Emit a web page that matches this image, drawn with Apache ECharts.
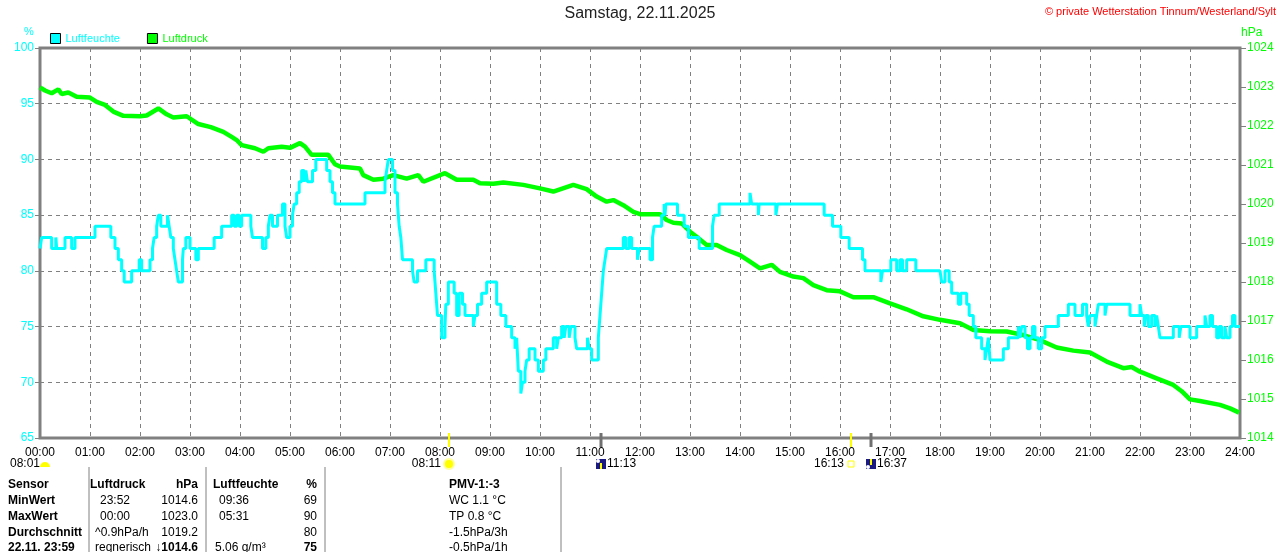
<!DOCTYPE html>
<html>
<head>
<meta charset="utf-8">
<title>Samstag, 22.11.2025</title>
<script src="https://cdn.jsdelivr.net/npm/echarts/dist/echarts.min.js"></script>
<style>
html, body { margin: 0; padding: 0; background: #fff; }
#chart { width: 1280px; height: 552px; }
</style>
</head>
<body>
<div id="chart"></div>
<script>
// Zeit in Minuten seit 00:00
var humTimes = [0, 2, 14, 19, 20, 30, 38, 42, 66, 85, 90, 94, 98, 101, 110, 119, 122, 132, 135, 137, 140, 142, 145, 153, 155, 157, 160, 162, 164, 166, 171, 172, 175, 180, 187, 190, 209, 218, 230, 233, 236, 239, 242, 253, 255, 267, 271, 274, 276, 279, 285, 291, 294, 296, 300, 303, 305, 308, 311, 314, 317, 319, 321, 327, 331, 344, 348, 351, 354,
  390, 414, 416, 418, 423, 426, 429, 431, 433, 435, 447, 449, 453, 463, 473, 475, 477, 482, 486, 487, 490, 497, 500, 503, 507, 510, 520, 522, 525, 530, 536, 548, 553, 559, 566, 570, 572, 574, 577, 579, 582, 584, 587, 594, 598, 604, 607, 616, 620, 622, 626, 629, 631, 635, 637, 642, 644, 657, 659, 662, 670, 672, 674, 676, 678, 680, 700, 703, 707, 710, 717, 719, 732, 735, 737, 746, 749, 750, 751, 765, 773, 778, 791, 807, 809, 815, 852, 854, 862, 863, 883, 885, 941, 951, 961, 971, 987, 990, 1009, 1011, 1021, 1028, 1032, 1035, 1040, 1051, 1080, 1082, 1086, 1091, 1094, 1102, 1105, 1112, 1115, 1120, 1123, 1130, 1134, 1136, 1138, 1140, 1156, 1162, 1174, 1176, 1178, 1182, 1185, 1188, 1191, 1194, 1198, 1202, 1206, 1222, 1234, 1242, 1251, 1256, 1258, 1260, 1266, 1268, 1270, 1278, 1280, 1308, 1320, 1322, 1325, 1327, 1330, 1334, 1338, 1340, 1342, 1344, 1360, 1367, 1369, 1380, 1388, 1398, 1400, 1404, 1407, 1412, 1415, 1418, 1422, 1424, 1428, 1431, 1434, 1440];
var humValues = [82, 83, 82, 83, 82, 83, 82, 83, 84, 83, 82, 81, 80, 79, 80, 81, 80, 81, 82, 83, 84, 85, 84, 85, 84, 83, 82, 81, 80, 79, 81, 82, 83, 82, 81, 82, 83, 84, 85, 84, 85, 84, 85, 84, 83, 82, 83, 84, 85, 84, 85, 86, 84, 83, 84, 85, 86, 87, 88, 89, 88, 89, 88, 89, 90, 89, 88, 87, 86,
  87, 88, 89, 90, 89, 87, 86, 84, 83, 81, 80, 79, 80, 81, 80, 78, 76, 74, 75, 77, 79, 78, 76, 78, 77, 76, 75, 76, 77, 78, 79, 77, 76, 75, 74, 73, 74, 71, 69, 70, 71, 72, 73, 72, 71, 72, 73, 74, 73, 74, 75, 74, 75, 74, 75, 74, 73, 74, 73, 72, 74, 76, 78, 80, 81, 82, 83, 82, 83, 82, 81, 82, 81, 83, 84, 85, 86, 85, 86, 85, 84, 83, 82, 84, 85, 86, 87, 86, 85, 86, 85, 86, 85, 84, 83, 82, 81, 80, 79, 80, 81, 80, 81, 80, 81, 80, 80, 79, 80, 79, 78, 77, 78, 77, 76, 75, 74, 73, 72, 73, 74, 72, 73, 74, 75, 74, 75, 74, 73, 74, 75, 74, 73, 74, 75, 76, 77, 76, 77, 76, 75, 76, 75, 76, 77, 76, 77, 76, 77, 76, 75, 76, 75, 76, 75, 76, 75, 74, 75, 74, 75, 74, 75, 76, 75, 76, 75, 74, 75, 74, 75, 74, 75, 76, 75, 75];

var pressTimes = [0, 6, 14, 22, 26, 34, 44, 60, 68, 78, 88, 100, 120, 128, 142, 152, 160, 176, 190, 205, 220, 230, 236, 242, 258, 268, 274, 290, 300, 312, 318, 326, 346, 354, 360, 384, 388, 400, 412, 424, 440, 454, 460, 486, 500, 520, 528, 544, 556, 580, 600, 616, 640, 656, 668, 680, 688, 700, 712, 720, 744, 752, 760, 770, 780, 788, 800, 812, 824, 840, 852, 864, 878, 888, 904, 916, 928, 944, 960, 976, 1000, 1020, 1040, 1060, 1080, 1104, 1120, 1140, 1160, 1180, 1200, 1220, 1240, 1260, 1280, 1300, 1310, 1320, 1340, 1360, 1370, 1380, 1392, 1416, 1428, 1439];
var pressValues = [1022.99, 1022.91, 1022.84, 1022.94, 1022.82, 1022.86, 1022.75, 1022.73, 1022.62, 1022.54, 1022.37, 1022.26, 1022.25, 1022.27, 1022.45, 1022.30, 1022.22, 1022.25, 1022.05, 1021.97, 1021.85, 1021.72, 1021.64, 1021.51, 1021.43, 1021.34, 1021.43, 1021.47, 1021.44, 1021.56, 1021.47, 1021.26, 1021.26, 1021.02, 1020.96, 1020.91, 1020.74, 1020.62, 1020.65, 1020.74, 1020.65, 1020.74, 1020.57, 1020.79, 1020.62, 1020.62, 1020.53, 1020.52, 1020.55, 1020.49, 1020.40, 1020.32, 1020.49, 1020.38, 1020.19, 1020.06, 1020.10, 1019.97, 1019.80, 1019.74, 1019.74, 1019.59, 1019.52, 1019.50, 1019.29, 1019.16, 1018.95, 1018.95, 1018.82, 1018.69, 1018.52, 1018.35, 1018.44, 1018.26, 1018.14, 1018.10, 1017.92, 1017.79, 1017.76, 1017.61, 1017.61, 1017.45, 1017.30, 1017.12, 1017.03, 1016.94, 1016.77, 1016.74, 1016.73, 1016.64, 1016.51, 1016.32, 1016.24, 1016.19, 1015.96, 1015.79, 1015.82, 1015.70, 1015.53, 1015.36, 1015.20, 1014.99, 1014.95, 1014.85, 1014.76, 1014.65];

// Sonnen- / Mondereignisse (Minuten, Beschriftung)
var eventTimes = [491, 673, 973, 997];
var eventLabels = ['08:11', '11:13', '16:13', '16:37'];

// Tabelle unter dem Diagramm
var tableRows = [
  ['Sensor', 'Luftdruck', 'hPa', 'Luftfeuchte', '%', 'PMV-1:-3'],
  ['MinWert', '23:52', '1014.6', '09:36', '69', 'WC 1.1 °C'],
  ['MaxWert', '00:00', '1023.0', '05:31', '90', 'TP 0.8 °C'],
  ['Durchschnitt', '^0.9hPa/h', '1019.2', '', '80', '-1.5hPa/3h'],
  ['22.11. 23:59', 'regnerisch', '↓1014.6', '5.06 g/m³', '75', '-0.5hPa/1h']
];

var FONT = '"Liberation Sans", Arial, sans-serif';
var cyan = '#00ffff';
var green = '#00ff00';
var gray = '#808080';

function pad(n) { return (n < 10 ? '0' : '') + n; }

var humData = humTimes.map(function (t, i) { return [t, humValues[i]]; });
var pressData = pressTimes.map(function (t, i) { return [t, pressValues[i]]; });

var myChart = echarts.init(document.getElementById('chart'));

var option = {
  animation: false,
  backgroundColor: '#fff',
  textStyle: { fontFamily: FONT },
  grid: {
    left: 40, right: 40, top: 48, bottom: 114,
    show: true, borderColor: gray, borderWidth: 3
  },
  legend: {
    left: 50, top: 33, padding: 0,
    icon: 'rect', itemWidth: 10, itemHeight: 10, itemGap: 27,
    itemStyle: { borderColor: '#000', borderWidth: 1 },
    textStyle: { fontFamily: FONT, fontSize: 11 },
    data: [
      { name: 'Luftfeuchte', textStyle: { color: cyan } },
      { name: 'Luftdruck', textStyle: { color: green } }
    ]
  },
  xAxis: {
    type: 'value', min: 0, max: 1440, interval: 60,
    axisLine: { show: false },
    axisTick: { show: false },
    axisLabel: {
      color: '#000', fontSize: 12, fontFamily: FONT, margin: 9,
      formatter: function (v) { return pad(v / 60) + ':00'; }
    },
    splitLine: { show: true, lineStyle: { color: gray, type: [4, 4], width: 1 } }
  },
  yAxis: [
    {
      type: 'value', min: 65, max: 100, interval: 5,
      axisLine: { show: false },
      axisTick: { show: true, length: 5, lineStyle: { color: gray } },
      axisLabel: { color: cyan, fontSize: 12, fontFamily: FONT, margin: 6 },
      splitLine: { show: true, lineStyle: { color: gray, type: [4, 4], width: 1 } }
    },
    {
      type: 'value', min: 1014, max: 1024, interval: 1,
      axisLine: { show: false },
      axisTick: { show: true, length: 6, lineStyle: { color: gray } },
      axisLabel: {
        color: green, fontSize: 12, fontFamily: FONT, margin: 7,
        formatter: function (v) { return String(v); }
      },
      splitLine: { show: false }
    }
  ],
  series: [
    {
      name: 'Luftdruck', type: 'line', yAxisIndex: 1,
      data: pressData, showSymbol: false,
      itemStyle: { color: green },
      lineStyle: { color: green, width: 4.5 },
      z: 2
    },
    {
      name: 'Luftfeuchte', type: 'line', yAxisIndex: 0,
      data: humData, showSymbol: false, step: 'end',
      itemStyle: { color: cyan },
      lineStyle: { color: cyan, width: 3 },
      z: 3
    }
  ]
};

myChart.setOption(option);

// Texte, Ereignismarken und Tabelle
var g = [];
g.push({ type: 'text', left: 'center', top: 6,
  style: { text: 'Samstag, 22.11.2025', font: '16px ' + FONT, fill: '#222' } });
g.push({ type: 'text', right: 4, top: 6,
  style: { text: '© private Wetterstation Tinnum/Westerland/Sylt', font: '11px ' + FONT, fill: '#ff0000' } });
g.push({ type: 'text', left: 24, top: 26, style: { text: '%', font: '11px ' + FONT, fill: cyan } });
g.push({ type: 'text', left: 1241, top: 27, style: { text: 'hPa', font: '12px ' + FONT, fill: green } });

// Dämmerung 08:01
g.push({ type: 'text', x: 10, y: 464, style: { text: '08:01', font: '12px ' + FONT, fill: '#000', verticalAlign: 'middle' } });
g.push({ type: 'sector', shape: { cx: 45, cy: 467, r0: 0, r: 5, startAngle: Math.PI, endAngle: 2 * Math.PI }, style: { fill: '#ffff00' } });

eventTimes.forEach(function (t, i) {
  var px = Math.round(myChart.convertToPixel({ xAxisIndex: 0 }, t));
  var sun = (i === 0 || i === 2);
  g.push({ type: 'line', shape: { x1: px, y1: 433, x2: px, y2: 447 },
    style: { stroke: sun ? '#ffff00' : '#707070', lineWidth: sun ? 2 : 3 }, z: 10 });
  if (i === 0) {
    g.push({ type: 'circle', shape: { cx: px, cy: 464, r: 5 }, style: { fill: '#ffff00', stroke: '#ffff99', lineWidth: 2 } });
    g.push({ type: 'text', x: px - 8, y: 464, style: { text: eventLabels[i], font: '12px ' + FONT, fill: '#000', align: 'right', verticalAlign: 'middle' } });
  } else if (i === 2) {
    g.push({ type: 'rect', shape: { x: px - 3, y: 461, width: 6, height: 6 }, style: { fill: 'none', stroke: '#ffff00', lineWidth: 1 } });
    g.push({ type: 'text', x: px - 7, y: 464, style: { text: eventLabels[i], font: '12px ' + FONT, fill: '#000', align: 'right', verticalAlign: 'middle' } });
  } else {
    g.push({ type: 'rect', shape: { x: px - 5, y: 459, width: 10, height: 10 }, style: { fill: '#1a1a80' } });
    g.push({ type: 'rect', shape: { x: px - 1, y: i === 1 ? 463 : 459, width: 2, height: 6 }, style: { fill: '#ffff00' } });
    g.push({ type: 'circle', shape: { cx: px - 3, cy: i === 1 ? 461 : 467, r: 2 }, style: { fill: '#ffffff' } });
    g.push({ type: 'text', x: px + 6, y: 464, style: { text: eventLabels[i], font: '12px ' + FONT, fill: '#000', verticalAlign: 'middle' } });
  }
});

// Tabellen-Trennlinien
[89, 206, 325, 561].forEach(function (x) {
  g.push({ type: 'line', shape: { x1: x, y1: 467, x2: x, y2: 552 }, style: { stroke: gray, lineWidth: 1 } });
});

var colX = [8, 95, 198, 215, 317, 449];
var colAlign = ['left', 'left', 'right', 'left', 'right', 'left'];
var rowY = [485, 501, 517, 533, 548];
tableRows.forEach(function (row, r) {
  row.forEach(function (txt, c) {
    if (!txt) return;
    var bold = r === 0 || c === 0 || (r === 4 && (c === 2 || c === 4));
    var x = colX[c];
    if (r === 0 && c === 1) x = 90;
    if ((r === 1 || r === 2) && c === 1) x = 100;
    if ((r === 1 || r === 2) && c === 3) x = 219;
    if (r === 0 && c === 3) x = 213;
    g.push({ type: 'text', x: x, y: rowY[r],
      style: { text: txt, font: (bold ? 'bold ' : '') + '12px ' + FONT, fill: '#000', align: colAlign[c], verticalAlign: 'middle' } });
  });
});

myChart.setOption({ graphic: g });

window.addEventListener('resize', function () { myChart.resize(); });
</script>
</body>
</html>
